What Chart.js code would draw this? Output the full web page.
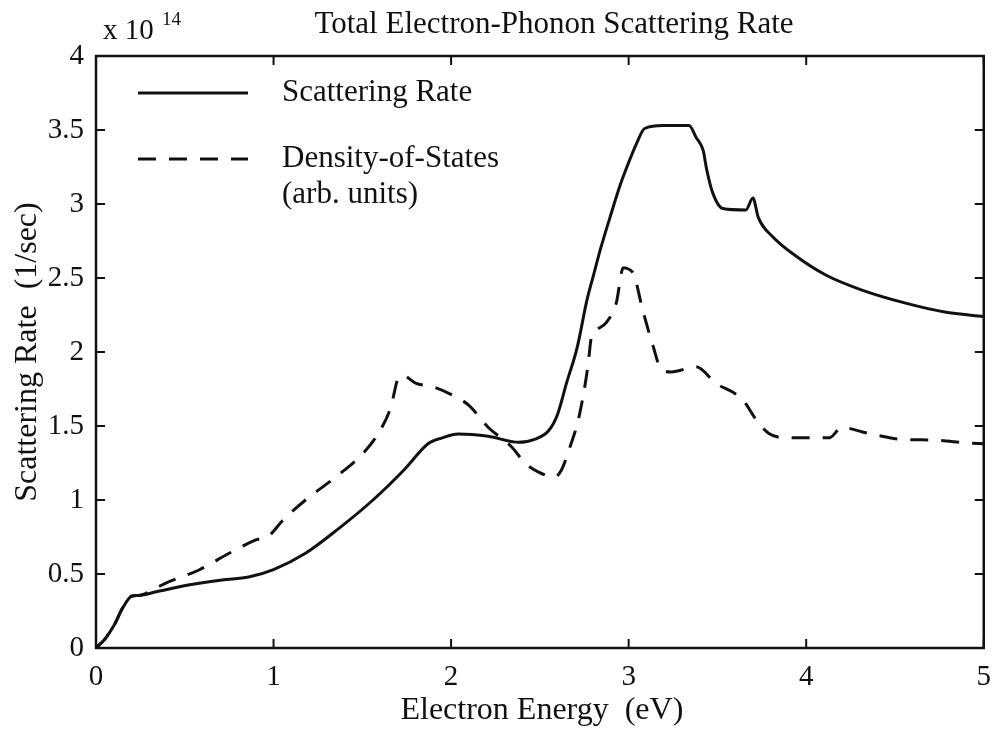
<!DOCTYPE html>
<html>
<head>
<meta charset="utf-8">
<script src="https://cdn.jsdelivr.net/npm/chart.js@4"></script>
<style>
  body { margin: 0; background: #fff; }
  #wrap { width: 995px; height: 732px; }
</style>
</head>
<body>
<div id="wrap"><canvas id="chart"></canvas></div>
<script>
// scattering rate (x 1e14 1/sec) vs electron energy (eV)
const rateEnergy = [0, 0.05, 0.1, 0.15, 0.2, 0.24, 0.34, 0.52, 0.71, 0.86, 1.0, 1.18, 1.37, 1.56, 1.74, 1.87, 1.95,
    2.04, 2.21, 2.38, 2.47, 2.55, 2.6, 2.65, 2.71, 2.765, 2.8, 2.84, 2.895, 2.95, 2.99, 3.045, 3.09, 3.195, 3.34,
    3.38, 3.42, 3.44, 3.475, 3.53, 3.66, 3.7, 3.73, 3.81, 3.94, 4.11, 4.31, 4.56, 4.78, 5.0];
const rateValues = [0, 0.06, 0.15, 0.27, 0.35, 0.355, 0.38, 0.425, 0.46, 0.48, 0.53, 0.64, 0.81, 1.0, 1.21, 1.38, 1.42,
    1.446, 1.43, 1.39, 1.41, 1.47, 1.58, 1.79, 2.03, 2.35, 2.51, 2.69, 2.91, 3.12, 3.25, 3.41, 3.51, 3.53, 3.53,
    3.45, 3.36, 3.23, 3.07, 2.97, 2.96, 3.04, 2.91, 2.78, 2.65, 2.52, 2.42, 2.33, 2.27, 2.24];

// density of states (arb. units)
const dosEnergy = [0, 0.05, 0.1, 0.15, 0.2, 0.24, 0.3, 0.39, 0.58, 0.75, 0.9, 0.975, 1.05, 1.18, 1.35, 1.5, 1.59, 1.66,
    1.705, 1.73, 1.8, 1.91, 2.02, 2.1, 2.21, 2.34, 2.42, 2.49, 2.58, 2.62, 2.67, 2.72, 2.77, 2.79, 2.82, 2.875, 2.93,
    2.97, 3.0, 3.03, 3.08, 3.14, 3.18, 3.24, 3.38, 3.49, 3.64, 3.72, 3.79, 3.9, 4.13, 4.2, 4.35, 4.54, 4.72, 4.91, 5.0];
const dosValues = [0, 0.06, 0.15, 0.27, 0.35, 0.355, 0.38, 0.437, 0.527, 0.64, 0.73, 0.76, 0.86, 1.0, 1.155, 1.31, 1.45, 1.625,
    1.83, 1.84, 1.79, 1.76, 1.7, 1.64, 1.49, 1.36, 1.245, 1.19, 1.155, 1.2, 1.36, 1.56, 1.9, 2.1, 2.15, 2.2, 2.33,
    2.57, 2.56, 2.52, 2.28, 2.03, 1.89, 1.865, 1.9, 1.79, 1.68, 1.54, 1.45, 1.42, 1.42, 1.49, 1.45, 1.41, 1.405, 1.385, 1.38];

const xTicks = [0, 1, 2, 3, 4, 5];
const yTicks = [0, 0.5, 1, 1.5, 2, 2.5, 3, 3.5, 4];

const SERIF = '"Liberation Serif", "Times New Roman", serif';
const INK = '#111';
const DASH = [18, 13];

function pts(xs, ys) {
    return xs.map((x, i) => ({ x: x, y: ys[i] }));
}

// box around the plot with inward tick marks (matlab style)
const frame = {
    id: 'frame',
    afterDatasetsDraw(chart) {
        const ctx = chart.ctx;
        const a = chart.chartArea;
        const xs = chart.scales.x, ys = chart.scales.y;
        const len = 9;
        ctx.save();
        ctx.strokeStyle = INK;
        ctx.lineWidth = 2.5;
        ctx.strokeRect(a.left, a.top, a.right - a.left, a.bottom - a.top);
        ctx.lineWidth = 2;
        ctx.beginPath();
        xTicks.forEach(v => {
            const p = xs.getPixelForValue(v);
            ctx.moveTo(p, a.bottom); ctx.lineTo(p, a.bottom - len);
            ctx.moveTo(p, a.top); ctx.lineTo(p, a.top + len);
        });
        yTicks.forEach(v => {
            const p = ys.getPixelForValue(v);
            ctx.moveTo(a.left, p); ctx.lineTo(a.left + len, p);
            ctx.moveTo(a.right, p); ctx.lineTo(a.right - len, p);
        });
        ctx.stroke();
        ctx.restore();
    }
};

// title, axis titles, exponent and the in-plot legend
const labels = {
    id: 'labels',
    afterDraw(chart) {
        const ctx = chart.ctx;
        const a = chart.chartArea;
        ctx.save();
        ctx.fillStyle = INK;
        ctx.textBaseline = 'alphabetic';

        ctx.font = '31px ' + SERIF;
        ctx.textAlign = 'center';
        ctx.fillText('Total Electron-Phonon Scattering Rate', 554, 33);

        ctx.textAlign = 'left';
        ctx.font = '29px ' + SERIF;
        ctx.fillText('x 10', 103, 39);
        ctx.font = '19px ' + SERIF;
        ctx.fillText('14', 162, 25);

        ctx.font = '32px ' + SERIF;
        ctx.textAlign = 'center';
        ctx.fillText('Electron Energy  (eV)', (a.left + a.right) / 2 + 2, 719);

        ctx.save();
        ctx.translate(36, (a.top + a.bottom) / 2);
        ctx.rotate(-Math.PI / 2);
        ctx.fillText('Scattering Rate  (1/sec)', 0, 0);
        ctx.restore();

        // legend
        const sets = chart.data.datasets;
        ctx.textAlign = 'left';
        ctx.textBaseline = 'middle';
        ctx.font = '31px ' + SERIF;
        const rows = [
            { ds: sets[0], y: 93, text: ['Scattering Rate'] },
            { ds: sets[1], y: 159, text: ['Density-of-States', '(arb. units)'] }
        ];
        rows.forEach(r => {
            ctx.save();
            ctx.strokeStyle = r.ds.borderColor;
            ctx.lineWidth = r.ds.borderWidth;
            ctx.setLineDash(r.ds.borderDash || []);
            ctx.beginPath();
            ctx.moveTo(138, r.y);
            ctx.lineTo(248, r.y);
            ctx.stroke();
            ctx.restore();
            r.text.forEach((t, i) => ctx.fillText(t, 282, r.y + i * 36));
        });
        ctx.restore();
    }
};

new Chart(document.getElementById('chart'), {
    type: 'scatter',
    data: {
        datasets: [
            {
                label: 'Scattering Rate',
                data: pts(rateEnergy, rateValues),
                showLine: true,
                borderColor: INK,
                borderWidth: 3,
                pointRadius: 0,
                cubicInterpolationMode: 'monotone'
            },
            {
                label: 'Density-of-States (arb. units)',
                data: pts(dosEnergy, dosValues),
                showLine: true,
                borderColor: INK,
                borderWidth: 3,
                borderDash: DASH,
                pointRadius: 0,
                cubicInterpolationMode: 'monotone'
            }
        ]
    },
    options: {
        responsive: true,
        maintainAspectRatio: false,
        animation: false,
        layout: { padding: { top: 56, right: 5, left: 0, bottom: 0 } },
        plugins: {
            legend: { display: false },
            tooltip: { enabled: false },
            title: { display: false }
        },
        scales: {
            x: {
                type: 'linear',
                min: 0,
                max: 5,
                afterFit(s) { s.height = 84; },
                afterBuildTicks(s) { s.ticks = xTicks.map(v => ({ value: v })); },
                grid: { display: false },
                border: { display: false },
                ticks: { color: INK, font: { family: SERIF, size: 29 }, padding: 4 }
            },
            y: {
                min: 0,
                max: 4,
                afterFit(s) { s.width = 96; },
                afterBuildTicks(s) { s.ticks = yTicks.map(v => ({ value: v })); },
                grid: { display: false },
                border: { display: false },
                ticks: {
                    color: INK,
                    font: { family: SERIF, size: 29 },
                    padding: 4,
                    callback: v => String(v)
                }
            }
        }
    },
    plugins: [frame, labels]
});
</script>
</body>
</html>
